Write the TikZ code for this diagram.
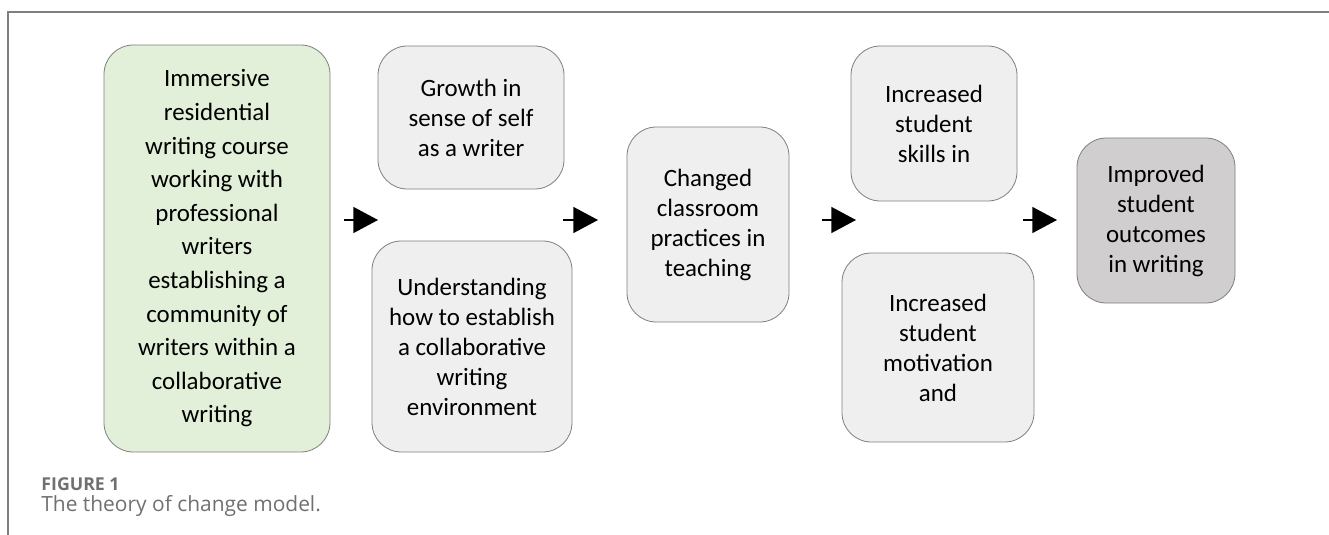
\documentclass[tikz,border=0pt]{standalone}
\usepackage{fontspec}
\setmainfont{Carlito}
\newfontfamily\capfont{Open Sans}
\usetikzlibrary{arrows.meta,positioning}

\definecolor{boxgreen}{HTML}{E2EFD9}
\definecolor{boxgray}{HTML}{EFEFEF}
\definecolor{boxdark}{HTML}{D0CECE}
\definecolor{edgegray}{HTML}{7F7F7F}
\definecolor{capgray}{HTML}{707070}

\begin{document}
\begin{tikzpicture}[x=0.75pt,y=-0.75pt,>={Triangle[length=18.5pt,width=19.5pt]},
                    semithick]
  \tikzstyle{stage}=[draw=edgegray,fill=boxgray,rounded corners=22pt,align=center,
                     inner sep=0pt,font=\fontsize{18.7}{22.5}\selectfont]
  \tikzstyle{flow}=[->,line width=1.1pt]

  \useasboundingbox (0,0) rectangle (1329,535);
  \draw[edgegray,line width=1pt] (8,535) -- (8,12) -- (1329,12);

  \node[stage,fill=boxgreen,font=\fontsize{18.7}{25.2}\selectfont,
        minimum width=169.5pt,minimum height=305.25pt] (A) at (217,248.5)
        {Immersive\\residential\\writing course\\working with\\professional\\writers\\establishing a\\community of\\writers within a\\collaborative\\writing};
  \node[stage,minimum width=139.5pt,minimum height=107.25pt] (B) at (471,117.5)
        {Growth in\\sense of self\\as a writer};
  \node[stage,minimum width=150pt,minimum height=158.25pt]   (C) at (472,346.5)
        {Understanding\\how to establish\\a collaborative\\writing\\environment};
  \node[stage,minimum width=121.5pt,minimum height=146.25pt] (D) at (708,224.5)
        {Changed\\classroom\\practices in\\teaching};
  \node[stage,minimum width=124.5pt,minimum height=116.25pt] (E) at (934,123.5)
        {Increased\\student\\skills in};
  \node[stage,minimum width=144pt,minimum height=141.75pt]   (F) at (938,347.5)
        {Increased\\student\\motivation\\and};
  \node[stage,fill=boxdark,minimum width=118.5pt,minimum height=123.75pt] (G) at (1156,220.5)
        {Improved\\student\\outcomes\\in writing};

  \coordinate (a1) at (344,220);  \coordinate (b1) at (378,220);
  \coordinate (a2) at (563,220);  \coordinate (b2) at (598,220);
  \coordinate (a3) at (822,220);  \coordinate (b3) at (856,220);
  \coordinate (a4) at (1023,220); \coordinate (b4) at (1057,220);
  \path (a1) edge[flow] (b1)
        (a2) edge[flow] (b2)
        (a3) edge[flow] (b3)
        (a4) edge[flow] (b4);

  % caption
  \node[anchor=base west,inner sep=0pt,text=capgray,font=\capfont\bfseries\fontsize{13.3}{15}\selectfont]
        (fig) at (41,490) {FIGURE 1};
  \node[anchor=base west,inner sep=0pt,text=capgray,font=\capfont\fontsize{15.7}{18}\selectfont]
        (cap) at (41,511) {The theory of change model.};
\end{tikzpicture}
\end{document}
